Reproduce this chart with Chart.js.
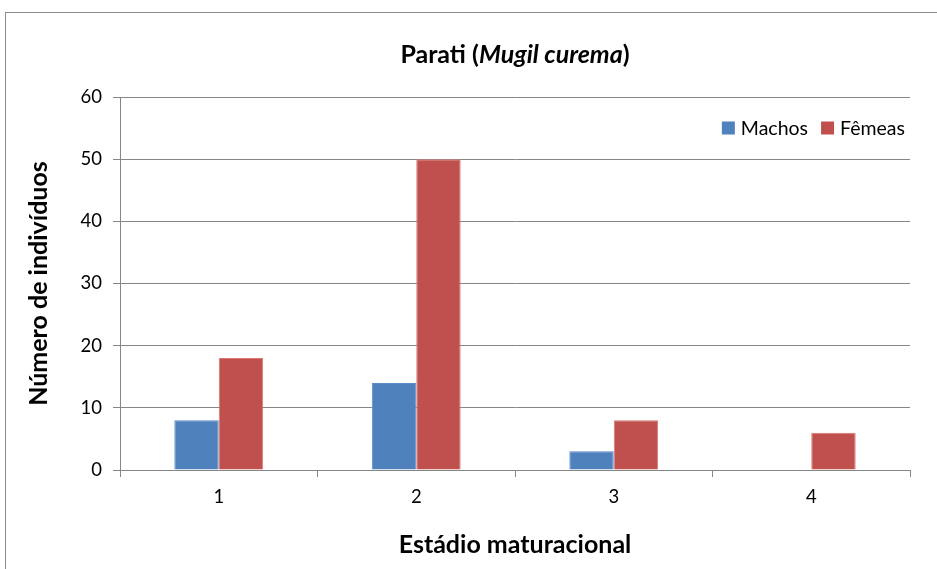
<!DOCTYPE html>
<html>
<head>
<meta charset="utf-8">
<script src="https://cdn.jsdelivr.net/npm/chart.js@4/dist/chart.umd.min.js"></script>
<style>
  html, body { margin: 0; padding: 0; background: #fff; overflow: hidden; }
  #wrap { position: relative; width: 937px; height: 569px; }
  #frame { position: absolute; left: 5px; top: 12px; width: 1000px; height: 1000px; border: 1px solid #8c8c8c; box-sizing: border-box; }
  #title { position: absolute; left: 0; top: 38px; width: 1030px; text-align: center; font-family: Lato, "Open Sans", sans-serif; font-weight: bold; font-size: 25px; color: #000; }
  canvas { position: absolute; left: 0; top: 0; }
</style>
</head>
<body>
<div id="wrap">
  <div id="frame"></div>
  <canvas id="c" width="937" height="569"></canvas>
  <div id="title">Parati (<i>Mugil curema</i>)</div>
</div>
<script>
const categories = ["1", "2", "3", "4"];
const machos = [8, 14, 3, 0];
const femeas = [18, 50, 8, 6];
const seriesNames = ["Machos", "Fêmeas"];
const yTicks = [0, 10, 20, 30, 40, 50, 60];
const xTitle = "Estádio maturacional";
const yTitle = "Número de indivíduos";

const FONT = 'Lato, "Open Sans", sans-serif';
const colors = ["#4F81BD", "#C0504D"];
const borders = ["#5B8BC6", "#D9777A"];

const legendPlugin = {
  id: 'insideLegend',
  afterDraw(chart) {
    const ctx = chart.ctx;
    const area = chart.chartArea;
    ctx.save();
    ctx.font = '19.5px ' + FONT;
    ctx.textBaseline = 'middle';
    const y = area.top + 31;
    const box = 13;
    const gap = 6;
    const itemGap = 13;
    const widths = seriesNames.map(n => ctx.measureText(n).width);
    let total = 0;
    widths.forEach((w, i) => { total += box + gap + w + (i < widths.length - 1 ? itemGap : 0); });
    let x = area.right - 5 - total;
    seriesNames.forEach((n, i) => {
      ctx.fillStyle = colors[i];
      ctx.fillRect(x, y - box / 2, box, box);
      x += box + gap;
      ctx.fillStyle = '#000';
      ctx.fillText(n, x, y + 1);
      x += widths[i] + itemGap;
    });
    ctx.restore();
  }
};

new Chart(document.getElementById('c'), {
  type: 'bar',
  data: {
    labels: categories,
    datasets: [
      { label: seriesNames[0], data: machos, backgroundColor: colors[0], borderColor: borders[0], borderWidth: 1 },
      { label: seriesNames[1], data: femeas, backgroundColor: colors[1], borderColor: borders[1], borderWidth: 1 }
    ]
  },
  options: {
    responsive: false,
    animation: false,
    devicePixelRatio: 1,
    layout: { padding: { left: 0, right: 27, top: 97, bottom: 0 } },
    datasets: { bar: { categoryPercentage: 0.45, barPercentage: 1.0 } },
    plugins: {
      legend: { display: false },
      title: { display: false },
      tooltip: { enabled: false }
    },
    scales: {
      x: {
        grid: { display: true, drawOnChartArea: false, drawTicks: true, tickLength: 7, color: '#868686', offset: true },
        border: { display: true, color: '#868686', width: 1 },
        ticks: { font: { family: FONT, size: 18.5 }, color: '#000', padding: 9 },
        title: { display: true, text: xTitle, font: { family: FONT, size: 25, weight: 'bold' }, color: '#000', padding: 9 },
        afterFit(scale) { scale.height = 99; }
      },
      y: {
        min: 0, max: 60,
        afterBuildTicks(scale) { scale.ticks = yTicks.map(v => ({ value: v })); },
        grid: { display: true, drawTicks: true, tickLength: 7, color: '#868686' },
        border: { display: true, color: '#868686', width: 1 },
        ticks: { font: { family: FONT, size: 18.5 }, color: '#000', padding: 11 },
        title: { display: true, text: yTitle, font: { family: FONT, size: 25, weight: 'bold' }, color: '#000', padding: 24 },
        afterFit(scale) { scale.width = 120; }
      }
    }
  },
  plugins: [legendPlugin]
});
</script>
</body>
</html>
